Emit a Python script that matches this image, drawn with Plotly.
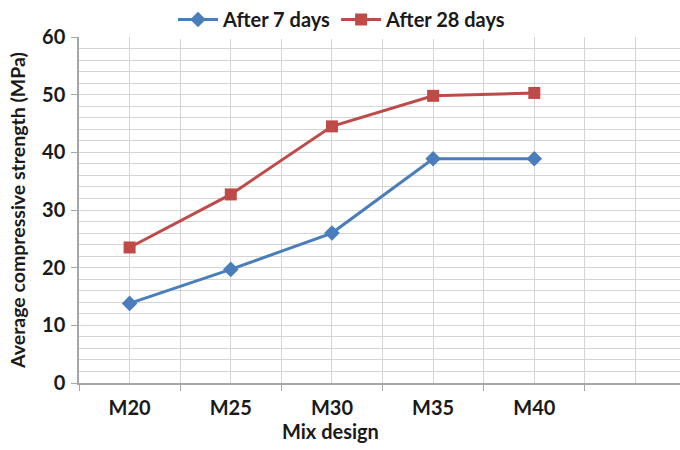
import plotly.graph_objects as go

categories = ["M20", "M25", "M30", "M35", "M40"]
after_7 = [13.8, 19.7, 26.0, 38.9, 38.9]
after_28 = [23.5, 32.7, 44.5, 49.8, 50.3]
y_ticks = [0, 10, 20, 30, 40, 50, 60]

x_pos = list(range(len(categories)))
n_slots = len(categories) + 1  # one empty slot on the right

fig = go.Figure()
fig.add_trace(go.Scatter(
    x=x_pos, y=after_7, name="After 7 days", mode="lines+markers",
    line=dict(color="#4A7EBB", width=3),
    marker=dict(symbol="diamond", size=12, color="#4A7EBB"),
))
fig.add_trace(go.Scatter(
    x=x_pos, y=after_28, name="After 28 days", mode="lines+markers",
    line=dict(color="#BE4B48", width=3),
    marker=dict(symbol="square", size=12, color="#BE4B48"),
))

font_family = "Lato"
grid_col = "#D4D4D4"
axis_col = "#A6A6A6"
fs = 20

fig.update_layout(
    width=680, height=450,
    margin=dict(l=79, r=0, t=36, b=67),
    paper_bgcolor="white", plot_bgcolor="white",
    font=dict(family=font_family, size=fs, color="#1a1a1a", weight="bold"),
    showlegend=True,
    legend=dict(orientation="h", x=0.4376, xanchor="center", y=1.052, yanchor="middle",
                font=dict(size=fs, weight="bold"), itemwidth=40, tracegroupgap=0),
    xaxis=dict(
        range=[-0.5, n_slots - 0.5 - 0.06],
        tickmode="array", tickvals=list(range(n_slots)),
        ticktext=categories + [""],
        ticks="", showgrid=True, gridcolor=grid_col, gridwidth=1,
        showline=True, linecolor=axis_col, linewidth=1.5,
        zeroline=False, ticklabelstandoff=6,
        minor=dict(tickmode="array",
                   tickvals=[i - 0.5 for i in range(n_slots + 1)],
                   ticks="outside", ticklen=6, tickcolor=axis_col,
                   showgrid=True, gridcolor=grid_col, gridwidth=1),
        tickfont=dict(size=fs, weight="bold"),
    ),
    yaxis=dict(
        range=[0, 60], tickmode="array", tickvals=y_ticks,
        ticks="outside", ticklen=6, tickcolor=axis_col,
        showgrid=True, gridcolor=grid_col, gridwidth=1,
        showline=True, linecolor=axis_col, linewidth=1.5,
        zeroline=False, ticklabelstandoff=2,
        minor=dict(dtick=2, showgrid=True, gridcolor=grid_col, gridwidth=1),
        title=dict(text="Average compressive strength (MPa)", standoff=11,
                   font=dict(size=19.5, weight="bold")),
        tickfont=dict(size=fs, weight="bold"),
    ),
    annotations=[dict(
        text="Mix design", xref="paper", yref="paper",
        x=0.419, y=-0.138, xanchor="center", yanchor="middle",
        showarrow=False, font=dict(size=fs, weight="bold"),
    )],
)

fig.write_html("out.html")
